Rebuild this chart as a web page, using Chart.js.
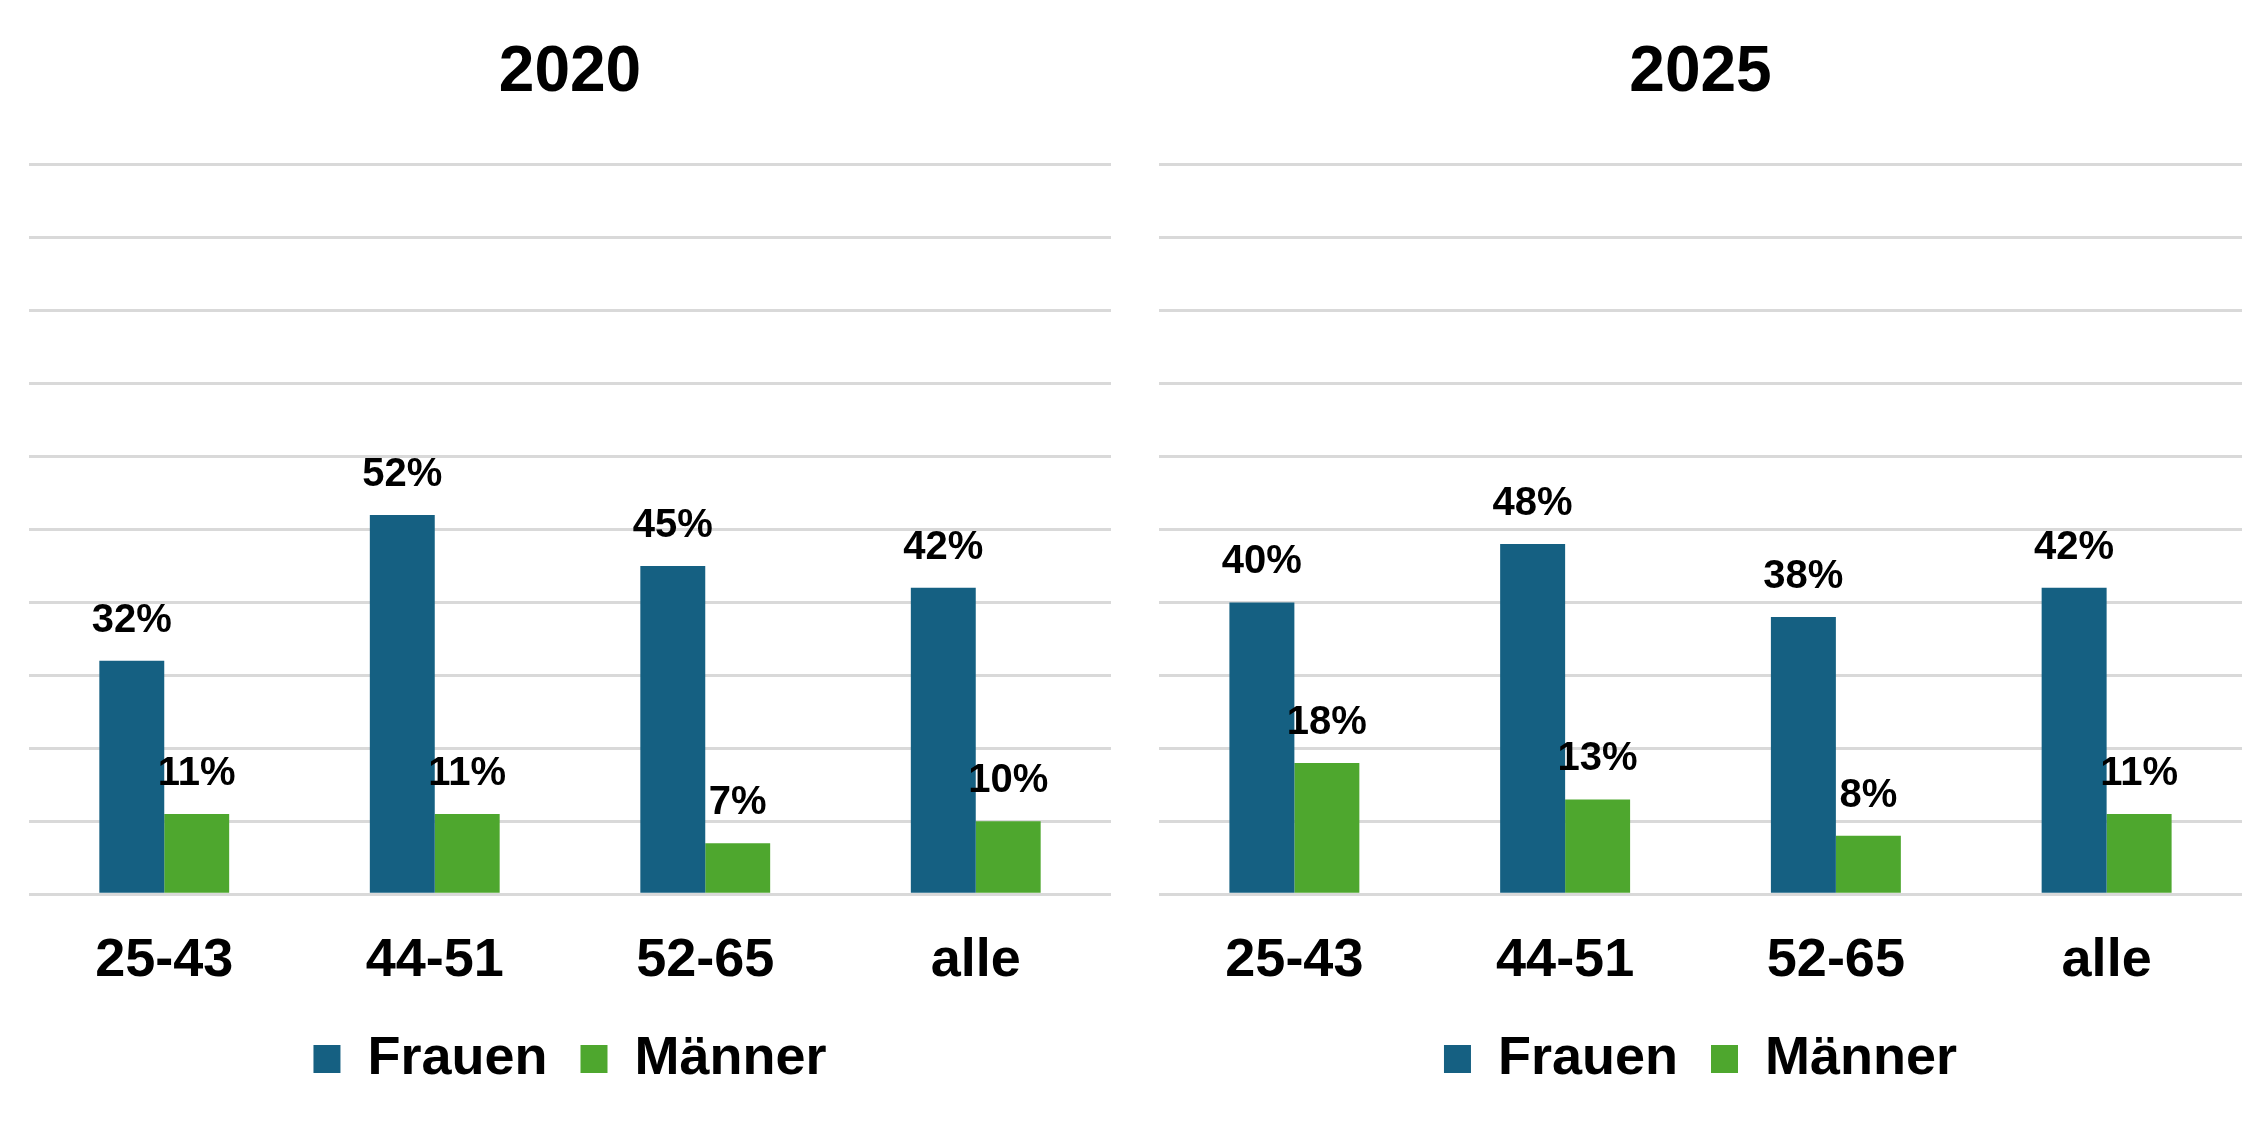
<!DOCTYPE html>
<html lang="de">
<head>
<meta charset="utf-8">
<title>Frauen / Männer 2020 und 2025</title>
<script src="https://cdn.jsdelivr.net/npm/chart.js@4/dist/chart.umd.min.js"></script>
<style>
  html, body { margin: 0; padding: 0; background: #fff; }
  .wrap { display: flex; width: 2261px; height: 1130px; }
  .panel { position: relative; height: 1130px; }
  #left { width: 1130px; }
  #right { width: 1131px; }
</style>
</head>
<body>
<div class="wrap">
  <div class="panel" id="left"><canvas id="chart2020"></canvas></div>
  <div class="panel" id="right"><canvas id="chart2025"></canvas></div>
</div>
<script>
const categories = ['25-43', '44-51', '52-65', 'alle'];
const seriesNames = ['Frauen', 'Männer'];
const frauen2020 = [32, 52, 45, 42];
const maenner2020 = [11, 11, 7, 10];
const frauen2025 = [40, 48, 38, 42];
const maenner2025 = [18, 13, 8, 11];
const yMin = 0;
const yMax = 100;
const yStep = 10;

const BLUE = '#156082';
const GREEN = '#4EA72E';
const FONT = '"Liberation Sans", Arial, sans-serif';

// draws the % labels above each bar
const valueLabels = {
  id: 'valueLabels',
  afterDatasetsDraw(chart) {
    const ctx = chart.ctx;
    ctx.save();
    ctx.font = 'bold 40px ' + FONT;
    ctx.fillStyle = '#000';
    ctx.textAlign = 'center';
    ctx.textBaseline = 'alphabetic';
    chart.data.datasets.forEach((ds, i) => {
      chart.getDatasetMeta(i).data.forEach((bar, j) => {
        ctx.fillText(Math.round(ds.data[j]) + '%', bar.x, bar.y - 29);
      });
    });
    ctx.restore();
  }
};

function makeChart(id, title, frauen, maenner) {
  return new Chart(document.getElementById(id), {
    type: 'bar',
    data: {
      labels: categories,
      datasets: [
        { label: seriesNames[0], data: frauen, backgroundColor: BLUE },
        { label: seriesNames[1], data: maenner, backgroundColor: GREEN }
      ]
    },
    options: {
      responsive: true,
      maintainAspectRatio: false,
      animation: false,
      categoryPercentage: 0.48,
      barPercentage: 1.0,
      layout: { padding: { top: 0, left: 29, right: 19, bottom: 34 } },
      plugins: {
        title: {
          display: true,
          text: title,
          color: '#000',
          font: { family: FONT, size: 64, weight: 'bold' },
          padding: { top: 35, bottom: 53 }
        },
        legend: {
          position: 'bottom',
          labels: {
            color: '#000',
            font: { family: FONT, size: 54, weight: 'bold' },
            boxWidth: 27,
            boxHeight: 28,
            padding: 33
          }
        },
        tooltip: { enabled: false }
      },
      scales: {
        x: {
          grid: { display: false, drawTicks: false },
          border: { display: false },
          ticks: {
            color: '#000',
            font: { family: FONT, size: 54, weight: 'bold' },
            padding: 35
          },
          // leave less room under the axis so the plot reaches down like the original
          afterFit: (scale) => { scale.height -= 30; }
        },
        y: {
          min: yMin,
          max: yMax,
          ticks: { display: false, stepSize: yStep },
          grid: { color: '#d9d9d9', lineWidth: 3, drawTicks: false },
          border: { display: false }
        }
      }
    },
    plugins: [valueLabels]
  });
}

document.addEventListener('DOMContentLoaded', () => {
  makeChart('chart2020', '2020', frauen2020, maenner2020);
  makeChart('chart2025', '2025', frauen2025, maenner2025);
});
</script>
</body>
</html>
